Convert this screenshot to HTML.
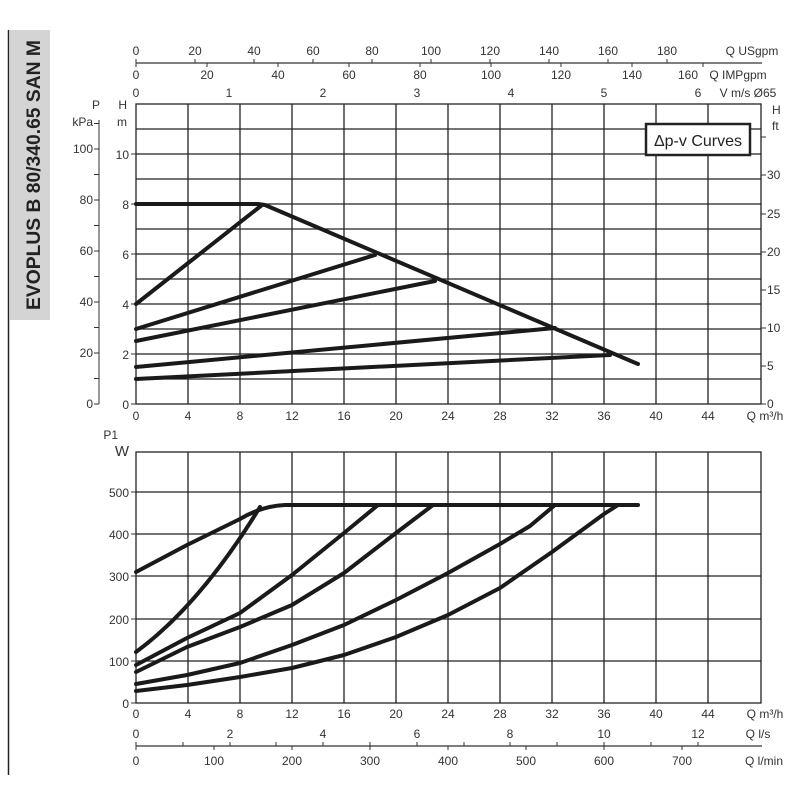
<!DOCTYPE html>
<html><head><meta charset="utf-8"><style>
html,body{margin:0;padding:0;background:#fff}
svg{display:block;font-family:"Liberation Sans",sans-serif;}
</style></head><body>
<svg width="800" height="800" viewBox="0 0 800 800" xmlns="http://www.w3.org/2000/svg">
<rect x="10" y="30" width="40" height="290" fill="#d4d4d4"/>
<line x1="8.5" y1="30" x2="8.5" y2="775" stroke="#222" stroke-width="1.5"/>
<text transform="translate(40,175) rotate(-90)" text-anchor="middle" font-size="19" font-weight="bold" fill="#222" textLength="270" lengthAdjust="spacingAndGlyphs">EVOPLUS B 80/340.65 SAN M</text>

<g font-size="12" fill="#333" text-anchor="middle">
<line x1="136" y1="63" x2="762" y2="63" stroke="#333" stroke-width="1.2"/>
<g stroke="#333">
<line x1="136" y1="59" x2="136" y2="63"/><line x1="195" y1="59" x2="195" y2="63"/><line x1="254" y1="59" x2="254" y2="63"/><line x1="313" y1="59" x2="313" y2="63"/><line x1="372" y1="59" x2="372" y2="63"/><line x1="431" y1="59" x2="431" y2="63"/><line x1="490" y1="59" x2="490" y2="63"/><line x1="549" y1="59" x2="549" y2="63"/><line x1="608" y1="59" x2="608" y2="63"/><line x1="667" y1="59" x2="667" y2="63"/>
<line x1="136" y1="63" x2="136" y2="67"/><line x1="207" y1="63" x2="207" y2="67"/><line x1="278" y1="63" x2="278" y2="67"/><line x1="349" y1="63" x2="349" y2="67"/><line x1="420" y1="63" x2="420" y2="67"/><line x1="491" y1="63" x2="491" y2="67"/><line x1="561" y1="63" x2="561" y2="67"/><line x1="632" y1="63" x2="632" y2="67"/><line x1="703" y1="63" x2="703" y2="67"/>
</g>
<text x="136" y="55">0</text><text x="195" y="55">20</text><text x="254" y="55">40</text><text x="313" y="55">60</text><text x="372" y="55">80</text><text x="431" y="55">100</text><text x="490" y="55">120</text><text x="549" y="55">140</text><text x="608" y="55">160</text><text x="667" y="55">180</text>
<text x="752" y="55" text-anchor="middle">Q USgpm</text>
<text x="136" y="79">0</text><text x="207" y="79">20</text><text x="278" y="79">40</text><text x="349" y="79">60</text><text x="420" y="79">80</text><text x="491" y="79">100</text><text x="561" y="79">120</text><text x="632" y="79">140</text><text x="688" y="79">160</text>
<text x="738" y="79">Q IMPgpm</text>
<text x="136" y="97">0</text><text x="229" y="97">1</text><text x="323" y="97">2</text><text x="417" y="97">3</text><text x="511" y="97">4</text><text x="604" y="97">5</text><text x="698" y="97">6</text>
<text x="748" y="97">V m/s Ø65</text>
</g>

<g stroke="#222" stroke-width="1.3" fill="none">
<rect x="136" y="104" width="625" height="300"/>
<path d="M188 104V404M240 104V404M292 104V404M344 104V404M396 104V404M448 104V404M500 104V404M552 104V404M604 104V404M656 104V404M708 104V404"/>
<path d="M136 129H761M136 154H761M136 179H761M136 204H761M136 229H761M136 254H761M136 279H761M136 304H761M136 329H761M136 354H761M136 379H761"/>
</g>
<g stroke="#333" stroke-width="1">
<line x1="99" y1="120" x2="99" y2="404"/>
<path d="M94 404H99M94 378.5H99M94 353H99M94 327.5H99M94 302H99M94 276.5H99M94 251H99M94 225.5H99M94 200H99M94 174.5H99M94 149H99M94 123.5H99"/>
<path d="M131 404H136M131 354H136M131 304H136M131 254H136M131 204H136M131 154H136"/>
<path d="M761 404H766M761 366H766M761 328H766M761 290H766M761 252H766M761 214H766M761 175H766M761 137H766"/>
</g>
<g font-size="12" fill="#333" text-anchor="end">
<text x="100" y="109">P</text><text x="93" y="126">kPa</text>
<text x="93" y="153">100</text><text x="93" y="204">80</text><text x="93" y="255">60</text><text x="93" y="306">40</text><text x="93" y="357">20</text><text x="93" y="408">0</text>
<text x="127" y="109">H</text><text x="127" y="126">m</text>
<text x="129" y="159">10</text><text x="129" y="209">8</text><text x="129" y="259">6</text><text x="129" y="309">4</text><text x="129" y="359">2</text><text x="129" y="409">0</text>
</g>
<g font-size="12" fill="#333" text-anchor="start">
<text x="772" y="114">H</text><text x="772" y="130">ft</text>
<text x="767" y="179">30</text><text x="767" y="218">25</text><text x="767" y="256">20</text><text x="767" y="294">15</text><text x="767" y="332">10</text><text x="767" y="370">5</text><text x="767" y="408">0</text>
</g>
<g font-size="12" fill="#333" text-anchor="middle">
<text x="136" y="420">0</text><text x="188" y="420">4</text><text x="240" y="420">8</text><text x="292" y="420">12</text><text x="344" y="420">16</text><text x="396" y="420">20</text><text x="448" y="420">24</text><text x="500" y="420">28</text><text x="552" y="420">32</text><text x="604" y="420">36</text><text x="656" y="420">40</text><text x="708" y="420">44</text>
<text x="765" y="420">Q m³/h</text>
</g>
<rect x="646" y="124" width="104" height="31" fill="#fff" stroke="#222" stroke-width="2.5"/>
<text x="698" y="146" font-size="16" text-anchor="middle" fill="#222">Δp-v Curves</text>

<g stroke="#1a1a1a" stroke-width="4" fill="none" stroke-linecap="round" stroke-linejoin="round">
<path d="M136 204H258L265 205L638 364"/>
<path d="M136 304L262 205"/>
<path d="M136 329L375 255"/>
<path d="M136 341L435 281"/>
<path d="M136 367L555 328"/>
<path d="M136 379L610 355"/>
</g>

<g stroke="#222" stroke-width="1.3" fill="none">
<rect x="136" y="452" width="625" height="251"/>
<path d="M188 452V703M240 452V703M292 452V703M344 452V703M396 452V703M448 452V703M500 452V703M552 452V703M604 452V703M656 452V703M708 452V703"/>
<path d="M136 492H761M136 534H761M136 576H761M136 619H761M136 661H761"/>
</g>
<g stroke="#333"><path d="M131 492H136M131 534H136M131 576H136M131 619H136M131 661H136M131 703H136"/></g>
<g font-size="12" fill="#333" text-anchor="end">
<text x="118" y="439">P1</text><text x="129" y="456" font-size="15">W</text>
<text x="129" y="497">500</text><text x="129" y="539">400</text><text x="129" y="581">300</text><text x="129" y="624">200</text><text x="129" y="666">100</text><text x="129" y="708">0</text>
</g>
<g stroke="#1a1a1a" stroke-width="4" fill="none" stroke-linecap="round" stroke-linejoin="round">
<path d="M136 572L187 545L240 519Q262 506 285 505H638"/>
<path d="M136 652Q200 605 260 507"/>
<polyline points="136,665 187,638 240,613 292,575 344,533 378,505"/>
<polyline points="136,672 187,647 240,627 292,605 344,573 396,533 433,505"/>
<polyline points="136,684 187,675 240,663 292,645 344,625 396,600 448,573 500,544 530,526 555,505"/>
<polyline points="136,691 187,685 240,677 292,668 344,655 396,637 448,615 500,588 552,552 604,514 618,505"/>
</g>
<g font-size="12" fill="#333" text-anchor="middle">
<text x="136" y="718">0</text><text x="188" y="718">4</text><text x="240" y="718">8</text><text x="292" y="718">12</text><text x="344" y="718">16</text><text x="396" y="718">20</text><text x="448" y="718">24</text><text x="500" y="718">28</text><text x="552" y="718">32</text><text x="604" y="718">36</text><text x="656" y="718">40</text><text x="708" y="718">44</text>
<text x="765" y="718">Q m³/h</text>
<line x1="136" y1="746" x2="762" y2="746" stroke="#333" stroke-width="1.2"/>
<g stroke="#333">
<path d="M136 742V746M183 742V746M230 742V746M276 742V746M323 742V746M370 742V746M417 742V746M464 742V746M510 742V746M557 742V746M604 742V746M651 742V746M698 742V746"/>
<path d="M136 746V750M214 746V750M292 746V750M370 746V750M448 746V750M526 746V750M604 746V750M682 746V750"/>
</g>
<text x="136" y="738">0</text><text x="230" y="738">2</text><text x="323" y="738">4</text><text x="417" y="738">6</text><text x="510" y="738">8</text><text x="604" y="738">10</text><text x="698" y="738">12</text>
<text x="758" y="738">Q l/s</text>
<text x="136" y="765">0</text><text x="214" y="765">100</text><text x="292" y="765">200</text><text x="370" y="765">300</text><text x="448" y="765">400</text><text x="526" y="765">500</text><text x="604" y="765">600</text><text x="682" y="765">700</text>
<text x="764" y="765">Q l/min</text>
</g>
</svg>
</body></html>
